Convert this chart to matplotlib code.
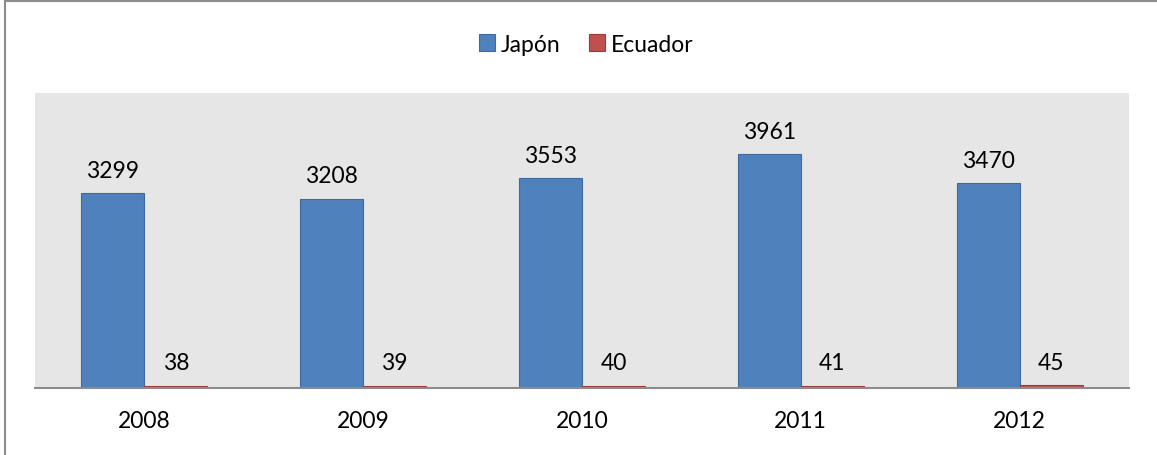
import matplotlib.pyplot as plt
import numpy as np
from matplotlib.lines import Line2D

years = ['2008', '2009', '2010', '2011', '2012']
japon = [3299, 3208, 3553, 3961, 3470]
ecuador = [38, 39, 40, 41, 45]

plt.rcParams['font.family'] = ['Lato', 'DejaVu Sans']

fig = plt.figure(figsize=(11.57, 4.56), dpi=100)
ax = fig.add_axes([35/1157, 67/456, 1094/1157, 295/456])
ax.set_facecolor('#E6E6E6')

x = np.arange(len(years))
w = 0.288
b1 = ax.bar(x - w/2, japon, w, color='#4F81BD', edgecolor='#3E6A9E', linewidth=0.8, label='Japón')
b2 = ax.bar(x + w/2, ecuador, w, color='#C0504D', edgecolor='#9E3B38', linewidth=0.8, label='Ecuador')
ax.bar_label(b1, padding=9, fontsize=16.5)
ax.bar_label(b2, padding=9, fontsize=16.5)

ax.set_xlim(-0.5, len(years) - 0.5)
ax.set_ylim(0, 5000)
ax.set_xticks(x)
ax.set_xticklabels(years, fontsize=16.5)
ax.tick_params(axis='x', length=0, pad=16)
ax.set_yticks([])
for s in ['top', 'left', 'right']:
    ax.spines[s].set_visible(False)
ax.spines['bottom'].set_color('#8C8C8C')
ax.spines['bottom'].set_linewidth(1.5)

fig.legend(loc='center', bbox_to_anchor=(586/1157, 1 - 45/456), ncol=2, frameon=False,
           fontsize=16.5, handlelength=0.7, handleheight=0.7, handletextpad=0.25,
           columnspacing=1.25, borderpad=0)

# outer frame: only top and left edges visible
fig.add_artist(Line2D([5.5/1157, 5.5/1157], [0, 1 - 1.5/456], transform=fig.transFigure,
                      color='#8C8C8C', linewidth=1.5))
fig.add_artist(Line2D([5.5/1157, 1], [1 - 1.5/456, 1 - 1.5/456], transform=fig.transFigure,
                      color='#8C8C8C', linewidth=1.5))

plt.savefig('out.png', dpi=100)
